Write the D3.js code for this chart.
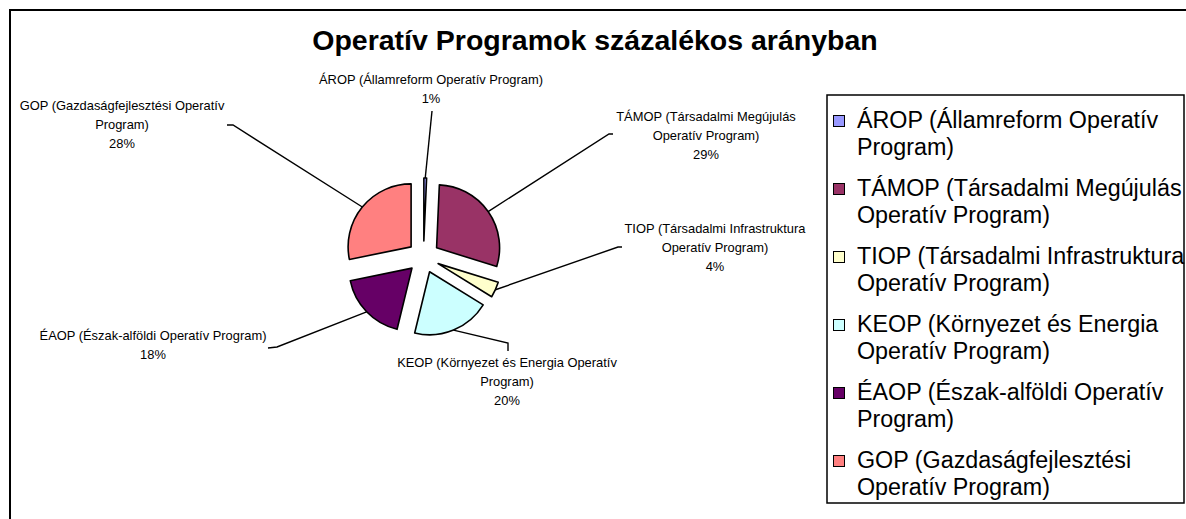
<!DOCTYPE html>
<html>
<head>
<meta charset="utf-8">
<script src="https://cdn.jsdelivr.net/npm/d3@7"></script>
<style>
  html, body { margin: 0; padding: 0; background: #fff; }
  svg { display: block; font-family: Arial, "Liberation Sans", sans-serif; }
</style>
</head>
<body>
<div id="chart"></div>
<script>
// chart data
const programs = ['ÁROP', 'TÁMOP', 'TIOP', 'KEOP', 'ÉAOP', 'GOP'];
const labelLines = [
    ['ÁROP (Államreform Operatív Program)'],
    ['TÁMOP (Társadalmi Megújulás', 'Operatív Program)'],
    ['TIOP (Társadalmi Infrastruktura', 'Operatív Program)'],
    ['KEOP (Környezet és Energia Operatív', 'Program)'],
    ['ÉAOP (Észak-alföldi Operatív Program)'],
    ['GOP (Gazdaságfejlesztési Operatív', 'Program)']
];
const legendLines = [
    ['ÁROP (Államreform Operatív', 'Program)'],
    ['TÁMOP (Társadalmi Megújulás', 'Operatív Program)'],
    ['TIOP (Társadalmi Infrastruktura', 'Operatív Program)'],
    ['KEOP (Környezet és Energia', 'Operatív Program)'],
    ['ÉAOP (Észak-alföldi Operatív', 'Program)'],
    ['GOP (Gazdaságfejlesztési', 'Operatív Program)']
];
// percent shares (labels round them)
const shares = [0.7, 29.1, 4, 20, 18, 28.2];
const sliceColors = ['#9999FF', '#993366', '#FFFFCC', '#CCFFFF', '#660066', '#FF8080'];

// layout
const W = 1186, H = 519;
const pieCenter = { x: 423.5, y: 257 };
const radius = 63;
const explode = 16;
const lineGap = 19;
// data label anchor (center x, first baseline) and leader-line start points
const labelPos = [
    { x: 431, y: 84, leader: [[432, 111]] },
    { x: 706, y: 121, leader: [[613, 134], [609, 134]] },
    { x: 715, y: 233, leader: [[622, 247], [618, 247]] },
    { x: 507, y: 367, leader: [[508, 351], [508, 343]] },
    { x: 153, y: 340, leader: [[268, 348], [277, 347]] },
    { x: 122, y: 110, leader: [[227, 125], [233, 125]] }
];

const svg = d3.select('#chart').append('svg')
    .attr('width', W)
    .attr('height', H);

// chart area border (runs off the right and bottom of the picture)
svg.append('rect')
    .attr('x', 10).attr('y', 10)
    .attr('width', 1200).attr('height', 530)
    .attr('fill', '#fff')
    .attr('stroke', '#000')
    .attr('stroke-width', 2);

svg.append('text')
    .attr('x', 595)
    .attr('y', 50)
    .attr('text-anchor', 'middle')
    .attr('font-size', 28.5)
    .attr('font-weight', 'bold')
    .text('Operatív Programok százalékos arányban');

const pie = d3.pie().sort(null).value(d => d)(shares);
const arc = d3.arc().innerRadius(0).outerRadius(radius);

function offsetOf(d, dist) {
    const mid = (d.startAngle + d.endAngle) / 2;
    return [Math.sin(mid) * dist, -Math.cos(mid) * dist];
}

const g = svg.append('g')
    .attr('transform', `translate(${pieCenter.x},${pieCenter.y})`);

g.selectAll('path.slice')
    .data(pie)
    .join('path')
    .attr('class', 'slice')
    .attr('transform', d => `translate(${offsetOf(d, explode)})`)
    .attr('d', arc)
    .attr('fill', (d, i) => sliceColors[i])
    .attr('stroke', '#000')
    .attr('stroke-width', 1.6)
    .attr('stroke-linejoin', 'round');

// leader lines
const line = d3.line();
svg.append('g').selectAll('path')
    .data(pie)
    .join('path')
    .attr('d', (d, i) => {
        const edge = offsetOf(d, explode + radius);
        const pts = labelPos[i].leader.concat([[pieCenter.x + edge[0], pieCenter.y + edge[1]]]);
        return line(pts);
    })
    .attr('fill', 'none')
    .attr('stroke', '#000')
    .attr('stroke-width', 1.4);

// data labels
const labels = svg.append('g')
    .attr('font-size', 12.9)
    .attr('text-anchor', 'middle');

pie.forEach((d, i) => {
    const lines = labelLines[i].concat([Math.round(d.value) + '%']);
    const t = labels.append('text')
        .attr('x', labelPos[i].x)
        .attr('y', labelPos[i].y);
    lines.forEach((s, j) => {
        t.append('tspan')
            .attr('x', labelPos[i].x)
            .attr('dy', j === 0 ? 0 : lineGap)
            .text(s);
    });
});

// legend
const legendBox = { x: 827, y: 95, w: 357, h: 408 };
const legendTop = 128, legendStep = 68, legendLine = 27;

const legend = svg.append('g');
legend.append('rect')
    .attr('x', legendBox.x).attr('y', legendBox.y)
    .attr('width', legendBox.w).attr('height', legendBox.h)
    .attr('fill', '#fff')
    .attr('stroke', '#000')
    .attr('stroke-width', 1.5);

const item = legend.selectAll('g.item')
    .data(programs)
    .join('g')
    .attr('class', 'item')
    .attr('transform', (d, i) => `translate(0,${legendTop + i * legendStep})`);

item.append('rect')
    .attr('x', 833.5)
    .attr('y', -12.5)
    .attr('width', 11)
    .attr('height', 11)
    .attr('fill', (d, i) => sliceColors[i])
    .attr('stroke', '#000')
    .attr('stroke-width', 1);

item.append('text')
    .attr('font-size', 23.3)
    .each(function(d, i) {
        const t = d3.select(this);
        legendLines[i].forEach((s, j) => {
            t.append('tspan')
                .attr('x', 857)
                .attr('y', j * legendLine)
                .text(s);
        });
    });
</script>
</body>
</html>
